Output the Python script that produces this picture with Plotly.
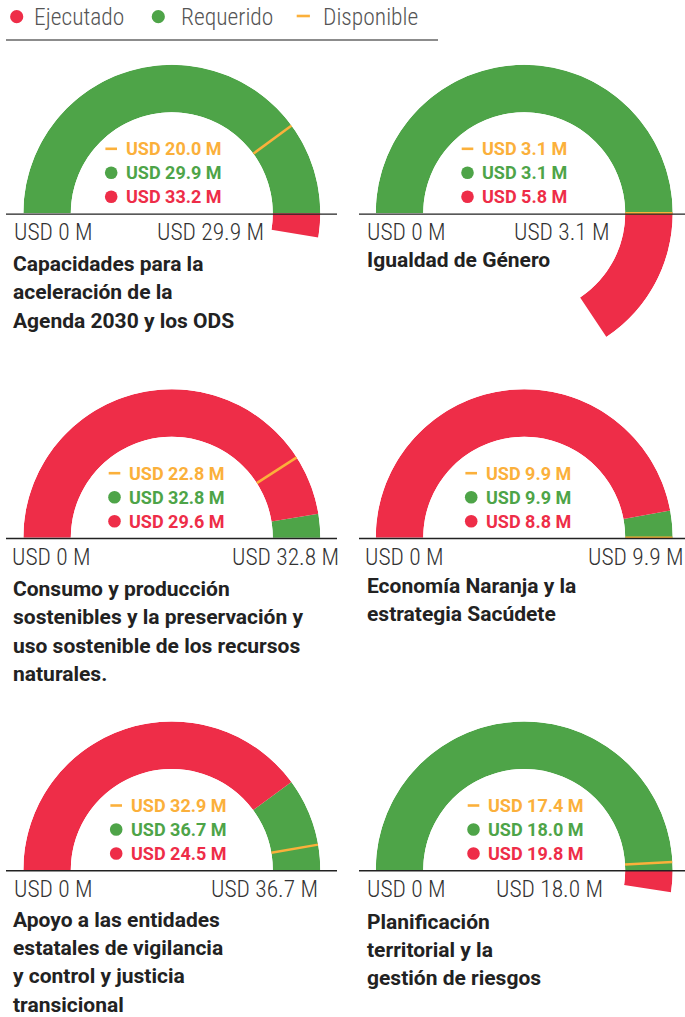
import numpy as np
import plotly.graph_objects as go

W, H = 685, 1017

# Datos (USD millones)
titulos = [
    ["Capacidades para la", "aceleración de la", "Agenda 2030 y los ODS"],
    ["Igualdad de Género"],
    ["Consumo y producción", "sostenibles y la preservación y",
     "uso sostenible de los recursos", "naturales."],
    ["Economía Naranja y la", "estrategia Sacúdete"],
    ["Apoyo a las entidades", "estatales de vigilancia",
     "y control y justicia", "transicional"],
    ["Planificación", "territorial y la", "gestión de riesgos"],
]
ejecutado = [33.2, 5.8, 29.6, 8.8, 24.5, 19.8]
requerido = [29.9, 3.1, 32.8, 9.9, 36.7, 18.0]
disponible = [20.0, 3.1, 22.8, 9.9, 32.9, 17.4]
leyenda = ["Ejecutado", "Requerido", "Disponible"]

ROJO = "#EE2D48"
VERDE = "#4EA448"
NARANJA = "#FBB03B"

# Posiciones de los paneles (px en la página)
cx = [171.8, 524.2] * 3
cy = [213.3, 213.3, 537.7, 537.7, 870.0, 870.0]
R = 148.5
R_INT = 101.0
x_valor = [126.7, 483.0, 130.0, 486.7, 131.7, 489.0]
x_eje_izq = [15.0, 368.3, 13.0, 365.7, 15.0, 368.3]
x_eje_der = [263.0, 609.3, 338.0, 683.0, 316.7, 602.3]
y_titulo = [264.2, 259.5, 589.2, 586.0, 920.0, 921.5]
x_titulo = [13.5, 367.5] * 3
INTERLINEA = 28.2
PAD = 3  # relleno interno de las anotaciones de plotly

FUENTE_LIGERA = "Roboto Condensed, Roboto"


def px(x):
    return x / W


def py(y):
    return 1 - y / H


def angulo(v, req):
    # escala logarítmica: el requerido cae en 0°, y cada factor e equivale a 90°
    return min(180.0, -90.0 * np.log(v / req))


def arco(a0, a1, color, sub):
    return go.Barpolar(
        theta=[(a0 + a1) / 2], width=[abs(a1 - a0)], r=[1],
        marker=dict(color=color, line=dict(width=0)),
        subplot=sub, hoverinfo="skip", showlegend=False,
    )


fig = go.Figure()
shapes = []
annotations = []

SECTOR = [-60, 180]
ymin_sector = np.sin(np.radians(SECTOR[0]))

for i in range(6):
    sub = "polar" if i == 0 else f"polar{i + 1}"
    ej, rq, dp = ejecutado[i], requerido[i], disponible[i]
    a_ej = angulo(ej, rq)
    if ej <= rq:
        fig.add_trace(arco(0, a_ej, VERDE, sub))
        fig.add_trace(arco(a_ej, 180, ROJO, sub))
    else:
        fig.add_trace(arco(0, 180, VERDE, sub))
        fig.add_trace(arco(a_ej, 0, ROJO, sub))
    a_dp = angulo(dp, rq)
    fig.add_trace(go.Scatterpolar(
        r=[0, 1], theta=[a_dp, a_dp], mode="lines",
        line=dict(color=NARANJA, width=2.5),
        subplot=sub, hoverinfo="skip", showlegend=False,
    ))

    fig.layout[sub] = dict(
        domain=dict(x=[px(cx[i] - R), px(cx[i] + R)],
                    y=[py(cy[i] - ymin_sector * R), py(cy[i] - R)]),
        sector=SECTOR,
        hole=R_INT / R,
        bgcolor="rgba(0,0,0,0)",
        radialaxis=dict(visible=False, range=[0, 1]),
        angularaxis=dict(visible=False),
    )

    # línea base
    izq = i % 2 == 0
    shapes.append(dict(
        type="line", xref="paper", yref="paper", layer="above",
        x0=px(6 if izq else 359), x1=px(337 if izq else 685),
        y0=py(cy[i] + 0.8), y1=py(cy[i] + 0.8),
        line=dict(color="#222222", width=1.4),
    ))

    # etiquetas de valores dentro del arco
    valores = [(dp, NARANJA), (rq, VERDE), (ej, ROJO)]
    for k, (v, col) in enumerate(valores):
        yk = cy[i] - 64.5 + 24 * k
        xd = x_valor[i] - 15.5
        if k == 0:
            shapes.append(dict(type="rect", xref="paper", yref="paper",
                               x0=px(xd - 5.8), x1=px(xd + 5.8),
                               y0=py(yk + 1.3), y1=py(yk - 1.3),
                               fillcolor=col, line=dict(width=0)))
        else:
            shapes.append(dict(type="circle", xref="paper", yref="paper",
                               x0=px(xd - 6.3), x1=px(xd + 6.3),
                               y0=py(yk + 6.3), y1=py(yk - 6.3),
                               fillcolor=col, line=dict(width=0)))
        annotations.append(dict(
            text=f"USD {v:.1f} M", x=px(x_valor[i] - PAD), y=py(yk),
            xanchor="left", yanchor="middle",
            font=dict(family="Roboto", size=18, weight=700, color=col),
        ))

    # extremos de la escala
    fuente_eje = dict(family=FUENTE_LIGERA, size=23.5, weight=300, color="#333333")
    annotations.append(dict(text="USD 0 M", x=px(x_eje_izq[i] - PAD), y=py(cy[i] + 19),
                            xanchor="left", yanchor="middle", font=fuente_eje))
    annotations.append(dict(text=f"USD {rq:.1f} M", x=px(x_eje_der[i] + PAD), y=py(cy[i] + 19),
                            xanchor="right", yanchor="middle", font=fuente_eje))

    # título del panel
    for j, linea in enumerate(titulos[i]):
        annotations.append(dict(
            text=linea, x=px(x_titulo[i] - PAD), y=py(y_titulo[i] + INTERLINEA * j),
            xanchor="left", yanchor="middle",
            font=dict(family="Roboto", size=21, weight=700, color="#222222"),
        ))

# leyenda superior
col_ley = [ROJO, VERDE, NARANJA]
x_ley_marca = [16.7, 158.3, 303.3]
x_ley_texto = [35.0, 181.7, 324.0]
for k in range(3):
    if k < 2:
        shapes.append(dict(type="circle", xref="paper", yref="paper",
                           x0=px(x_ley_marca[k] - 6.6), x1=px(x_ley_marca[k] + 6.6),
                           y0=py(16.7 + 6.6), y1=py(16.7 - 6.6),
                           fillcolor=col_ley[k], line=dict(width=0)))
    else:
        shapes.append(dict(type="rect", xref="paper", yref="paper",
                           x0=px(x_ley_marca[k] - 6.6), x1=px(x_ley_marca[k] + 6.6),
                           y0=py(17.3), y1=py(14.7),
                           fillcolor=col_ley[k], line=dict(width=0)))
    annotations.append(dict(
        text=leyenda[k], x=px(x_ley_texto[k] - PAD), y=py(16.8),
        xanchor="left", yanchor="middle",
        font=dict(family=FUENTE_LIGERA, size=23.5, weight=300, color="#555555"),
    ))
shapes.append(dict(type="line", xref="paper", yref="paper",
                   x0=px(6), x1=px(438), y0=py(40), y1=py(40),
                   line=dict(color="#666666", width=1.4)))

for a in annotations:
    a.update(xref="paper", yref="paper", showarrow=False)

fig.update_layout(
    width=W, height=H,
    margin=dict(l=0, r=0, t=0, b=0),
    paper_bgcolor="white",
    plot_bgcolor="white",
    showlegend=False,
    shapes=shapes,
    annotations=annotations,
)

fig.write_html("out.html", config={"displayModeBar": False},
               post_script="document.body.style.margin='0';")
